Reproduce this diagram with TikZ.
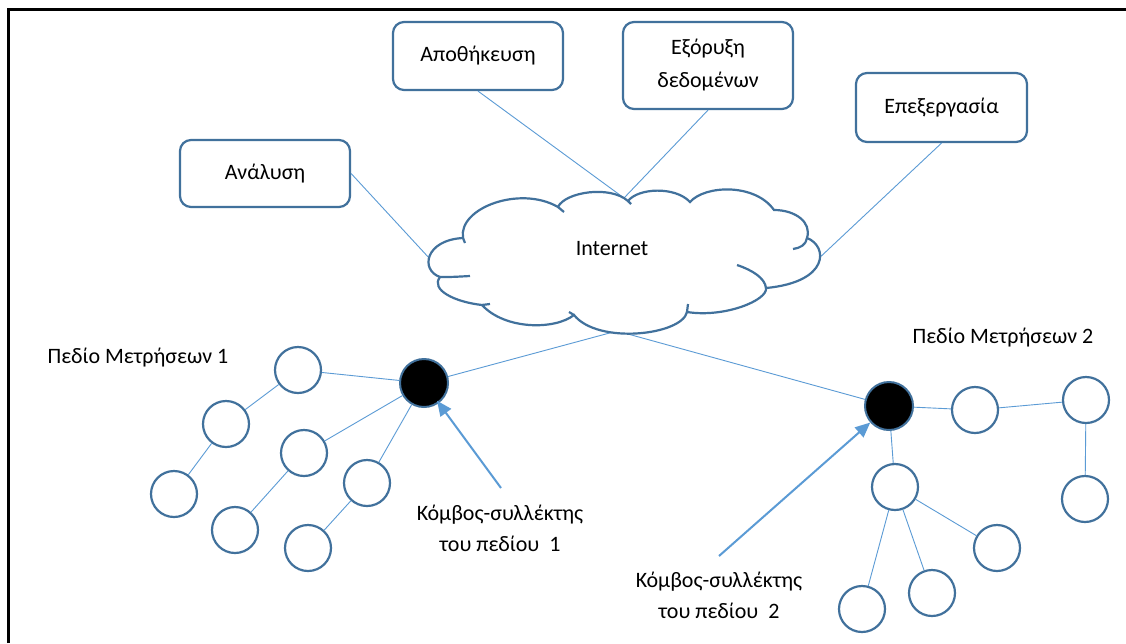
\documentclass[tikz,border=0pt]{standalone}
\usepackage{fontspec}
\setmainfont{Carlito}
\usetikzlibrary{arrows.meta}
\definecolor{dblue}{HTML}{41719C}
\definecolor{lblue}{HTML}{5B9BD5}
\tikzset{
  boxstyle/.style={draw=dblue, line width=2.2pt, rounded corners=11pt, fill=white, align=center, font=\fontsize{22}{33}\selectfont, inner sep=0pt},
  cloudline/.style={draw=dblue, line width=2.2pt},
  sensor/.style={circle, draw=dblue, line width=2.2pt, fill=white, minimum size=46pt, inner sep=0pt},
  sink/.style={circle, draw=dblue, line width=2pt, fill=black, minimum size=48pt, inner sep=0pt},
  link/.style={draw=lblue, line width=0.9pt},
  pointer/.style={draw=lblue, line width=2pt, -{Triangle[length=15pt,width=13pt]}},
  lbl/.style={font=\fontsize{22}{31}\selectfont, align=center, inner sep=0pt}
}
\begin{document}
\begin{tikzpicture}[x=1pt,y=-1pt]
\useasboundingbox (0,0) rectangle (1126,643);
\fill[white] (0,0) rectangle (1126,643);
% frame
\draw[black, line width=2.2pt] (8.5,643) -- (8.5,9.5) -- (1126,9.5);

% boxes
\node[boxstyle, minimum width=170pt, minimum height=67pt] (an) at (265,173.5) {Ανάλυση};
\node[boxstyle, minimum width=170pt, minimum height=68pt] (ap) at (478,56) {Αποθήκευση};
\node[boxstyle, minimum width=170pt, minimum height=87pt] (ex) at (708,65.5) {Εξόρυξη\\δεδομένων};
\node[boxstyle, minimum width=171pt, minimum height=69pt] (ep) at (941.5,107.5) {Επεξεργασία};

% cloud attach points
\coordinate (ca) at (430,259);
\coordinate (ct) at (624,198);
\coordinate (cr) at (816,261);
\coordinate (cb) at (617,331);

% field 1
\node[sink] (n1) at (424,383) {};
\node[sensor] (c1) at (298,370) {};
\node[sensor] (c2) at (226,424) {};
\node[sensor] (c3) at (174,494) {};
\node[sensor] (c4) at (304,453) {};
\node[sensor] (c5) at (235,530) {};
\node[sensor] (c6) at (367,483) {};
\node[sensor] (c7) at (308,548) {};

% field 2
\node[sink] (n2) at (889,406) {};
\node[sensor] (d1) at (975,410) {};
\node[sensor] (d2) at (1086,400) {};
\node[sensor] (d3) at (1085,499) {};
\node[sensor] (d4) at (895,487) {};
\node[sensor] (d5) at (997,548) {};
\node[sensor] (d6) at (932,593) {};
\node[sensor] (d7) at (862,609) {};

% connectors to cloud
\draw[link] (an.east) -- (ca);
\draw[link] (ap.south) -- (ct);
\draw[link] (ex.south) -- (ct);
\draw[link] (ep.south) -- (cr);
\draw[link] (cb) -- (n1);
\draw[link] (cb) -- (n2);

% field edges
\draw[link] (c1) -- (n1);
\draw[link] (c1) -- (c2);
\draw[link] (c2) -- (c3);
\draw[link] (n1) -- (c4);
\draw[link] (c4) -- (c5);
\draw[link] (n1) -- (c6);
\draw[link] (c6) -- (c7);
\draw[link] (n2) -- (d1);
\draw[link] (d1) -- (d2);
\draw[link] (d2) -- (d3);
\draw[link] (n2) -- (d4);
\draw[link] (d4) -- (d5);
\draw[link] (d4) -- (d6);
\draw[link] (d4) -- (d7);

% cloud
\draw[cloudline, fill=white] (463,238) .. controls (458,208) and (520,185) .. (558,207)
 .. controls (565,192) and (610,185) .. (628,201)
 .. controls (638,188) and (675,186) .. (690,202)
 .. controls (705,185) and (755,183) .. (774,210)
 .. controls (795,210) and (812,222) .. (807,238)
 .. controls (828,246) and (830,282) .. (766,288)
 .. controls (768,300) and (725,318) .. (687,312)
 .. controls (682,335) and (598,345) .. (574,315)
 .. controls (555,330) and (505,330) .. (482,305)
 .. controls (455,302) and (430,290) .. (440,277)
 .. controls (420,270) and (425,240) .. (463,238) -- cycle;
\draw[cloudline] (807,238) .. controls (806,245) and (800,248) .. (793,249);
\draw[cloudline] (737,265) .. controls (752,270) and (765,278) .. (766,288);
\draw[cloudline] (688,304) -- (687,312);
\draw[cloudline] (574,315) -- (569,312);
\draw[cloudline] (490,304) -- (482,305);
\draw[cloudline] (440,277) .. controls (452,277) .. (470,276);
\draw[cloudline] (558,207) -- (564,212);
\draw[cloudline] (463,238) -- (465,243);
\draw[cloudline] (628,201) -- (631,204);
\node[lbl] (inet) at (612,249) {Internet};

% labels
\node[lbl] (f1) at (138,358) {Πεδίο Μετρήσεων 1};
\node[lbl] (f2) at (1003,338) {Πεδίο Μετρήσεων 2};
\node[lbl] (k1) at (500,528) {Κόμβος-συλλέκτης\\του πεδίου\ \ 1};
\node[lbl] (k2) at (719,595) {Κόμβος-συλλέκτης\\του πεδίου\ \ 2};

% arrows
\coordinate (a1) at (501,488);
\coordinate (a2) at (719,556);
\draw[pointer, shorten >=-3pt] (a1) -- (n1);
\draw[pointer] (a2) -- (n2);
\end{tikzpicture}
\end{document}
